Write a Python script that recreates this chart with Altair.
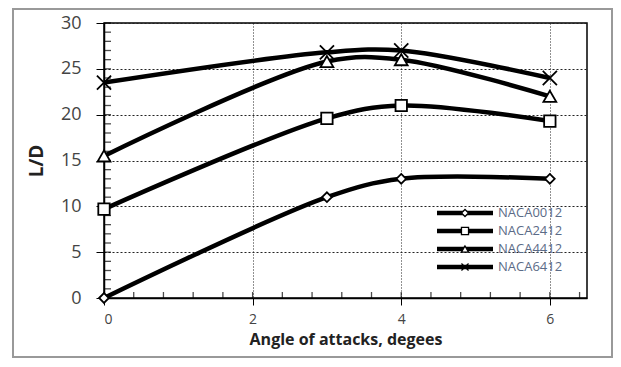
import altair as alt
import pandas as pd

angles = [0, 3, 4, 6]
series = ["NACA0012", "NACA2412", "NACA4412", "NACA6412"]
naca0012 = [0.0, 11.0, 13.0, 13.0]
naca2412 = [9.7, 19.6, 21.0, 19.3]
naca4412 = [15.5, 25.8, 26.0, 22.0]
naca6412 = [23.5, 26.8, 27.0, 24.0]

values = [naca0012, naca2412, naca4412, naca6412]
rows = []
for s, vals in zip(series, values):
    for a, v in zip(angles, vals):
        rows.append({"series": s, "angle": a, "ld": v})
df = pd.DataFrame(rows)

x_major = [0, 2, 4, 6]
y_major = [0, 5, 10, 15, 20, 25, 30]
x_minor = [round(i * 0.4, 1) for i in range(17)]
y_minor = list(range(0, 31))

W, H = 483, 275

xcross = "M-1,-1L1,1M-1,1L1,-1"
shape_scale = alt.Scale(domain=series, range=["diamond", "square", "triangle-up", xcross])
size_scale = alt.Scale(domain=series, range=[95, 200, 170, 190])

xs = alt.Scale(domain=[0, 6.5], nice=False)
ys = alt.Scale(domain=[0, 30], nice=False)

x_enc = alt.X("angle:Q", scale=xs,
              axis=alt.Axis(values=x_major, title="Angle of attacks, degees", format="d",
                            tickSize=7, grid=True, gridColor="#222", gridDash=[1, 2], gridWidth=1,
                            labelFontSize=14, labelColor="#444", labelPadding=7,
                            titleFontSize=16, titleFontWeight="bold", titleColor="#222",
                            titlePadding=5, domainColor="#000", domainWidth=1.5, tickColor="#000"))
y_enc = alt.Y("ld:Q", scale=ys,
              axis=alt.Axis(values=y_major, title="L/D",
                            tickSize=8, grid=True, gridColor="#222", gridDash=[2, 2], gridWidth=1.2,
                            labelFontSize=18, labelColor="#444", labelPadding=15,
                            titleFontSize=19, titleFontWeight="bold", titleColor="#222",
                            titlePadding=14, domainColor="#000", domainWidth=1.5, tickColor="#000"))

lines = alt.Chart(df).mark_line(interpolate="catmull-rom", color="black", strokeWidth=4.5).encode(
    x=x_enc, y=y_enc, detail="series:N")

points = alt.Chart(df).mark_point(filled=False, fill="white", fillOpacity=1, color="black",
                                  strokeWidth=1.8, opacity=1).encode(
    x="angle:Q", y="ld:Q",
    shape=alt.Shape("series:N", scale=shape_scale, legend=None),
    size=alt.Size("series:N", scale=size_scale, legend=None))

# minor ticks along the axes (inside the plot, as in the reference)
xm = pd.DataFrame({"v": x_minor})
ym = pd.DataFrame({"v": y_minor})
x_minor_ticks = alt.Chart(xm).mark_tick(orient="vertical", color="black", thickness=1.3, size=6).encode(
    x=alt.X("v:Q", scale=xs), y=alt.value(H - 3))
y_minor_ticks = alt.Chart(ym).mark_tick(orient="horizontal", color="black", thickness=1.3, size=7).encode(
    y=alt.Y("v:Q", scale=ys), x=alt.value(3.5))

# manual legend
leg = pd.DataFrame({"series": series, "yy": [190, 208, 226, 244]})
leg_lines = alt.Chart(leg).mark_rule(color="black", strokeWidth=4.5).encode(
    x=alt.value(333), x2=alt.value(389), y=alt.Y("yy:Q", scale=None))
leg_pts = alt.Chart(leg).mark_point(filled=False, fill="white", fillOpacity=1, color="black",
                                    strokeWidth=1.3, opacity=1).encode(
    x=alt.value(361), y=alt.Y("yy:Q", scale=None),
    shape=alt.Shape("series:N", scale=shape_scale, legend=None),
    size=alt.value(50))
leg_text = alt.Chart(leg).mark_text(align="left", baseline="middle", fontSize=13,
                                    color="#5b6b87", font="Open Sans").encode(
    x=alt.value(394), y=alt.Y("yy:Q", scale=None), text="series:N")

frame = alt.Chart(pd.DataFrame({"a": [0]})).mark_rect(fillOpacity=0, stroke="#999", strokeWidth=2).encode(
    x=alt.value(-91), x2=alt.value(508), y=alt.value(-14), y2=alt.value(334))

chart = alt.layer(frame, lines, x_minor_ticks, y_minor_ticks, points, leg_lines, leg_pts, leg_text).properties(
    width=W, height=H,
    autosize=alt.AutoSizeParams(type="none"),
    padding={"left": 96, "top": 15, "right": 26, "bottom": 61},
).configure_view(stroke="black", strokeWidth=1.5).configure_axis(
    labelFont="Open Sans", titleFont="Open Sans")

chart.save("out.html", embed_options={"renderer": "svg", "actions": False})
